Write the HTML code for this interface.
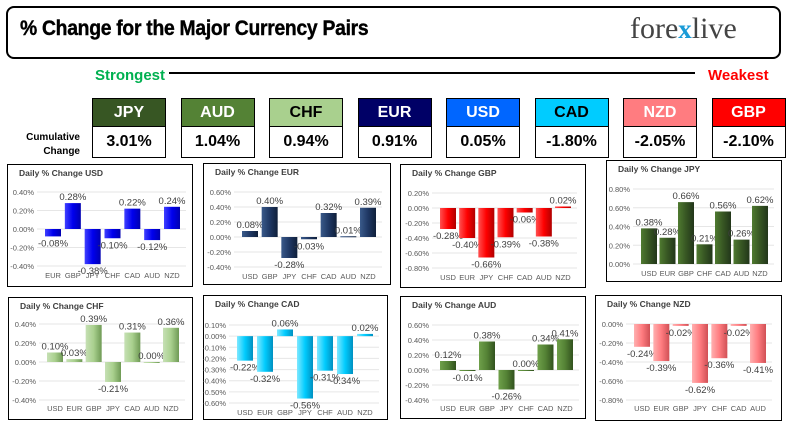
<!DOCTYPE html>
<html><head><meta charset="utf-8"><style>
body{margin:0;width:790px;height:430px;background:#fff;position:relative;overflow:hidden;font-family:"Liberation Sans",sans-serif}
.abs{position:absolute}
.hdr{left:6px;top:6px;width:771px;height:49px;border:2px solid #000;border-radius:8px}
.title{left:20px;top:17px;font-weight:bold;font-size:21px;transform:scaleX(0.92);transform-origin:left;letter-spacing:-0.3px;-webkit-text-stroke:0.4px #000}
.logo{left:630px;top:12px;font-family:"Liberation Serif",serif;font-size:30px;color:#444}
.cond{font-family:"Liberation Sans Narrow","Liberation Sans",sans-serif;font-weight:bold}
.box{width:72px;border:1px solid #000;text-align:center}
.panel{border:1.5px solid #000;background:#fff;box-sizing:border-box}
</style></head><body>
<div class="abs hdr"></div>
<div class="abs title">% Change for the Major Currency Pairs</div>
<div class="abs logo">fore<span style="color:#1a9bd7;font-size:27px;font-weight:bold">x</span>live</div>
<div class="abs cond" style="left:95px;top:67px;font-size:15px;color:#00b050">Strongest</div>
<div class="abs" style="left:169px;top:72px;width:526px;height:2px;background:#000"></div>
<div class="abs cond" style="left:708px;top:67px;font-size:15px;color:#ff0000">Weakest</div>
<div class="abs cond" style="left:18px;top:131px;font-size:10px;text-align:right;width:62px;line-height:14px">Cumulative<br>Change</div>
<div id="boxes"></div>
<div id="charts"></div>
<script>
const rankCur=["JPY","AUD","CHF","EUR","USD","CAD","NZD","GBP"];
const rankVal=["3.01%","1.04%","0.94%","0.91%","0.05%","-1.80%","-2.05%","-2.10%"];
const rankBg=["#375623","#548235","#a9d08e","#000066","#0066ff","#00ccff","#ff7c80","#ff0000"];
const rankFg=["#fff","#fff","#000","#fff","#fff","#000","#fff","#fff"];
const bx=document.getElementById('boxes');
rankCur.forEach((c,i)=>{
 const x=92+i*88.5;
 const h=document.createElement('div');
 
 
 h.className='abs box cond';h.style.cssText=`left:${x}px;top:98px;height:27px;line-height:27px;font-size:16px;background:${rankBg[i]};color:${rankFg[i]}`;
 h.textContent=c;bx.appendChild(h);
 const v=document.createElement('div');
 
 
 v.className='abs box cond';v.style.cssText=`left:${x}px;top:126px;height:30px;line-height:30px;font-size:16px;background:#fff`;
 v.textContent=rankVal[i];bx.appendChild(v);
});

const usdCats=["EUR","GBP","JPY","CHF","CAD","AUD","NZD"];
const usdVals=[-0.08,0.28,-0.38,-0.10,0.22,-0.12,0.24];
const eurCats=["USD","GBP","JPY","CHF","CAD","AUD","NZD"];
const eurVals=[0.08,0.40,-0.28,-0.03,0.32,0.01,0.39];
const gbpCats=["USD","EUR","JPY","CHF","CAD","AUD","NZD"];
const gbpVals=[-0.28,-0.40,-0.66,-0.39,-0.06,-0.38,0.02];
const jpyCats=["USD","EUR","GBP","CHF","CAD","AUD","NZD"];
const jpyVals=[0.38,0.28,0.66,0.21,0.56,0.26,0.62];
const chfCats=["USD","EUR","GBP","JPY","CAD","AUD","NZD"];
const chfVals=[0.10,0.03,0.39,-0.21,0.31,0.00,0.36];
const cadCats=["USD","EUR","GBP","JPY","CHF","AUD","NZD"];
const cadVals=[-0.22,-0.32,0.06,-0.56,-0.31,-0.34,0.02];
const audCats=["USD","EUR","GBP","JPY","CHF","CAD","NZD"];
const audVals=[0.12,-0.01,0.38,-0.26,0.00,0.34,0.41];
const nzdCats=["USD","EUR","GBP","JPY","CHF","CAD","AUD"];
const nzdVals=[-0.24,-0.39,-0.02,-0.62,-0.36,-0.02,-0.41];
const usdTicks=[0.4,0.2,0,-0.2,-0.4];
const eurTicks=[0.6,0.4,0.2,0,-0.2,-0.4];
const gbpTicks=[0.2,0,-0.2,-0.4,-0.6,-0.8];
const jpyTicks=[0.8,0.6,0.4,0.2,0];
const chfTicks=[0.4,0.2,0,-0.2,-0.4];
const cadTicks=[0.1,0,-0.1,-0.2,-0.3,-0.4,-0.5,-0.6];
const audTicks=[0.6,0.4,0.2,0,-0.2,-0.4];
const nzdTicks=[0,-0.2,-0.4,-0.6,-0.8];

const panels=[
 {id:"usd",x:7,y:164,w:186,h:123,cats:usdCats,vals:usdVals,ticks:usdTicks,top:28,bot:102,c0:46,c1:165,ly:111,col:["#4040ff","#0000ee","#0000b0"]},
 {id:"eur",x:203,y:163,w:188,h:122,cats:eurCats,vals:eurVals,ticks:eurTicks,top:29,bot:104,c0:47,c1:165,ly:113,col:["#3a5a8a","#1f3864","#0f1f3a"]},
 {id:"gbp",x:400,y:164,w:186,h:124,cats:gbpCats,vals:gbpVals,ticks:gbpTicks,top:29,bot:104,c0:48,c1:163,ly:113,col:["#ff5050","#ff0000","#b00000"]},
 {id:"jpy",x:606,y:160,w:176,h:122,cats:jpyCats,vals:jpyVals,ticks:jpyTicks,top:29,bot:104,c0:43,c1:154,ly:113,col:["#4f7a30","#375623","#22361a"]},
 {id:"chf",x:8,y:297,w:185,h:123,cats:chfCats,vals:chfVals,ticks:chfTicks,top:27,bot:103,c0:47,c1:163,ly:111,col:["#c6e0b4","#a9d08e","#6f9a55"]},
 {id:"cad",x:203,y:295,w:185,h:125,cats:cadCats,vals:cadVals,ticks:cadTicks,top:30,bot:108,c0:42,c1:162,ly:117,col:["#80e8ff","#00ccff","#0090c0"]},
 {id:"aud",x:400,y:296,w:186,h:123,cats:audCats,vals:audVals,ticks:audTicks,top:29,bot:104,c0:48,c1:165,ly:112,col:["#6fa04a","#548235","#32521e"]},
 {id:"nzd",x:595,y:295,w:187,h:126,cats:nzdCats,vals:nzdVals,ticks:nzdTicks,top:29,bot:105,c0:47,c1:163,ly:113,col:["#ffb0b0","#ff7c80","#d05055"]}
];
const NS="http://www.w3.org/2000/svg";
function mk(tag,attrs){const e=document.createElementNS(NS,tag);for(const k in attrs)e.setAttribute(k,attrs[k]);return e;}
const host=document.getElementById('charts');
panels.forEach(p=>{
 const d=document.createElement('div');
 d.className='abs panel';d.style.cssText=`left:${p.x}px;top:${p.y}px;width:${p.w}px;height:${p.h}px`;
 
 
 const svg=mk('svg',{width:p.w,height:p.h});svg.style.cssText='position:absolute;left:-1.5px;top:-1.5px';
 const defs=mk('defs',{});const g=mk('linearGradient',{id:'g'+p.id,x1:0,x2:1,y1:0,y2:0});
 [[0,p.col[0]],[0.5,p.col[1]],[1,p.col[2]]].forEach(s=>g.appendChild(mk('stop',{offset:s[0],'stop-color':s[1]})));
 defs.appendChild(g);svg.appendChild(defs);
 const t=mk('text',{x:12,y:12,'font-size':'8.5','font-weight':'bold',fill:'#404040'});t.textContent='Daily % Change '+p.id.toUpperCase();
 
 
 svg.appendChild(t);
 const tmax=Math.max(...p.ticks),tmin=Math.min(...p.ticks);
 const Y=v=>p.top+(tmax-v)/(tmax-tmin)*(p.bot-p.top);
 const X=i=>p.c0+i*(p.c1-p.c0)/(p.cats.length-1);
 p.ticks.forEach(v=>{
  svg.appendChild(mk('line',{x1:p.c0-16,x2:p.c1+14,y1:Y(v),y2:Y(v),stroke:'#e6e6e6','stroke-width':1}));
  const tl=mk('text',{x:p.c0-19,y:Y(v)+3,'font-size':'7.5','text-anchor':'end',fill:'#595959'});
  
  
  tl.textContent=v.toFixed(2)+'%';svg.appendChild(tl);
 });
 p.vals.forEach((v,i)=>{
  const x=X(i),y0=Y(0),y1=Y(v);
  const r=mk('rect',{x:x-8,y:Math.min(y0,y1),width:16,height:Math.max(Math.abs(y1-y0),1),fill:'url(#g'+p.id+')'});
  
  
  svg.appendChild(r);
  const lb=mk('text',{x:x,y:v>=0?y1-3:y1+10,'font-size':'9.5','text-anchor':'middle',fill:'#404040'});
  
  
  lb.textContent=v.toFixed(2)+'%';svg.appendChild(lb);
  const cl=mk('text',{x:x,y:p.ly+3,'font-size':'7.5','text-anchor':'middle',fill:'#595959'});
  
  
  cl.textContent=p.cats[i];svg.appendChild(cl);
 });
 d.appendChild(svg);host.appendChild(d);
});
</script>
</body></html>
